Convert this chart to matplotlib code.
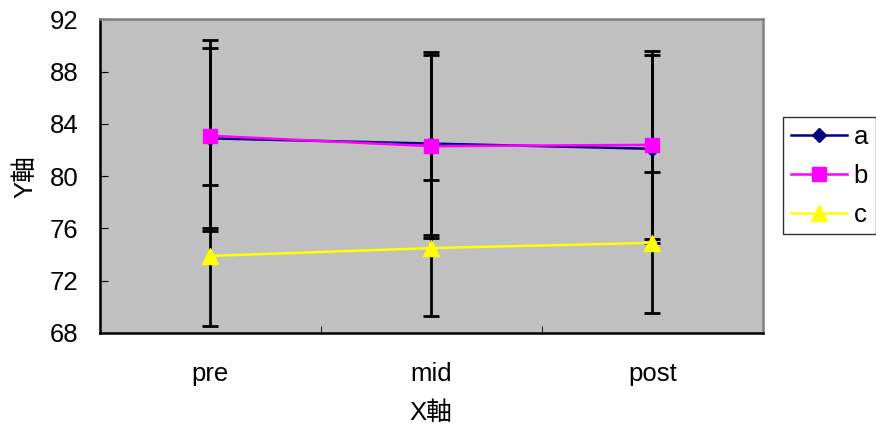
import matplotlib.pyplot as plt

plt.rcParams['font.family'] = ['Liberation Sans', 'Noto Sans CJK JP']

phases = ['pre', 'mid', 'post']
a_mean = [82.9, 82.5, 82.1]
a_err = [6.9, 7.0, 7.2]
b_mean = [83.1, 82.3, 82.4]
b_err = [7.3, 7.0, 7.2]
c_mean = [73.9, 74.5, 74.9]
c_err = [5.4, 5.2, 5.4]

fig = plt.figure(figsize=(8.76, 4.29), dpi=100)
ax = fig.add_axes([0.1136, 0.2238, 0.7574, 0.7308])
ax.set_facecolor('#c0c0c0')

x = list(range(len(phases)))
series = [
    ('a', a_mean, a_err, '#000080', 'D', 7),
    ('b', b_mean, b_err, '#ff00ff', 's', 10.5),
    ('c', c_mean, c_err, '#ffff00', '^', 11),
]
for name, m, e, col, mk, ms in series:
    ax.errorbar(x, m, yerr=e, fmt='none', ecolor='black', elinewidth=2,
                capsize=5.5, capthick=2, zorder=2)
for name, m, e, col, mk, ms in series:
    ax.plot(x, m, color=col, marker=mk, markersize=ms, linewidth=1.8,
            label=name, zorder=3)

ax.set_xlim(-0.5, 2.5)
ax.set_ylim(68, 92)
ax.set_yticks(range(68, 93, 4))
ax.set_xticks(x)
ax.set_xticklabels(phases)
ax.set_xticks([0.5, 1.5], minor=True)
ax.tick_params(axis='x', which='major', length=0, pad=21, labelsize=18.5)
ax.tick_params(axis='x', which='minor', length=5, direction='in', color='black')
ax.tick_params(axis='y', length=6, direction='in', labelsize=18.5, pad=15)

ax.spines['left'].set_color('black')
ax.spines['bottom'].set_color('black')
ax.spines['top'].set_color('#808080')
ax.spines['right'].set_color('#808080')
for s in ax.spines.values():
    s.set_linewidth(1.8)

ax.set_xlabel('X軸', fontsize=18.5, labelpad=11)
ax.set_ylabel('Y軸', fontsize=18.5, labelpad=9)

leg = ax.legend(loc='upper left', bbox_to_anchor=(783 / 876, 1 - 117 / 429),
                bbox_transform=fig.transFigure, fontsize=18.5,
                frameon=True, fancybox=False, handlelength=2.2,
                borderpad=0.3, labelspacing=0.58, handletextpad=0.25,
                borderaxespad=0)
leg.get_frame().set_edgecolor('black')
leg.get_frame().set_linewidth(1)

fig.savefig('out.png', dpi=100)
